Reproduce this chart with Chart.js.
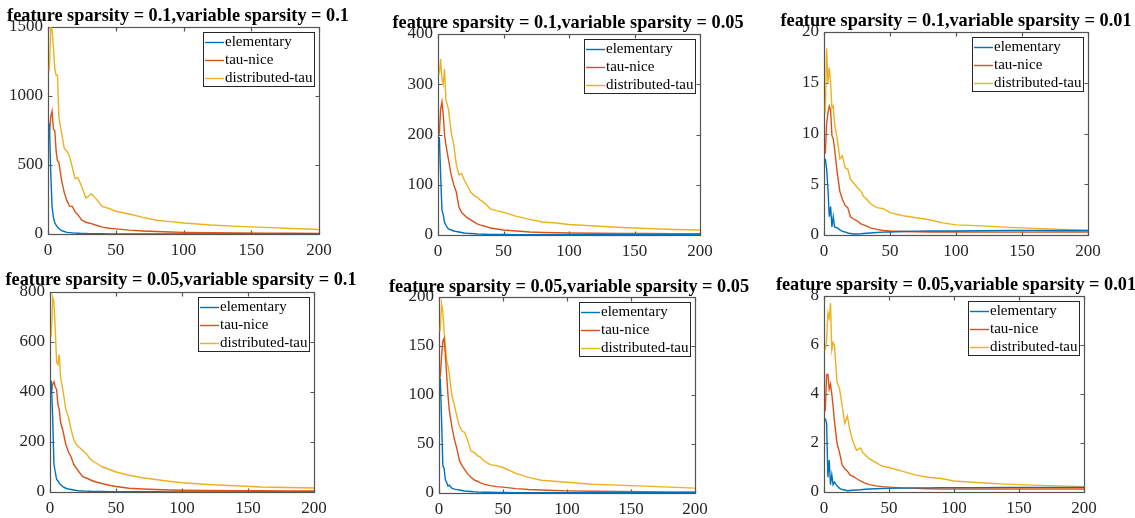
<!DOCTYPE html>
<html>
<head>
<meta charset="utf-8">
<script src="https://cdn.jsdelivr.net/npm/chart.js@4.4.1/dist/chart.umd.min.js"></script>
<style>
  html, body { margin: 0; padding: 0; background: #fff; }
  body { position: relative; width: 1135px; height: 518px; overflow: hidden; }
  .panel { position: absolute; }
  .title {
    position: absolute; white-space: nowrap; line-height: 1;
    font: bold 18.3px "Liberation Serif", serif; color: #000;
    transform: translateX(-50%);
  }
</style>
</head>
<body>
<script>
const iters = [1, 2, 3, 4, 5, 6, 7, 8, 10, 12, 14, 16, 18, 20, 22, 25, 28, 30, 32, 35, 40, 45, 50, 60, 70, 80, 90, 100, 120, 140, 160, 180, 200];

const seriesNames = ['elementary', 'tau-nice', 'distributed-tau'];
const seriesColors = ['#0072BD', '#D95319', '#EDB120'];

const titles = [
  'feature sparsity = 0.1,variable sparsity = 0.1',
  'feature sparsity = 0.1,variable sparsity = 0.05',
  'feature sparsity = 0.1,variable sparsity = 0.01',
  'feature sparsity = 0.05,variable sparsity = 0.1',
  'feature sparsity = 0.05,variable sparsity = 0.05',
  'feature sparsity = 0.05,variable sparsity = 0.01'
];
const yMax = [1500, 400, 20, 800, 200, 8];
const yStep = [500, 100, 5, 200, 50, 2];
const xTickStep = 50;

// feature 0.1, variable 0.1
const elem_f10_v10 = [800, 450, 200, 120, 80, 65, 50, 40, 25, 18, 12, 10, 8, 6, 5, 4, 3.5, 3, 2.5, 2, 1.5, 1.2, 1, 0.8, 0.7, 0.6, 0.5, 0.5, 0.5, 0.5, 0.5, 0.5, 0.5];
const tau_f10_v10 = [720, 850, 890, 760, 750, 600, 530, 520, 390, 300, 240, 200, 200, 160, 140, 100, 85, 80, 75, 65, 50, 42, 37, 28, 22, 18, 14, 12, 9, 7, 6, 5, 4];
const dist_f10_v10 = [1180, 1500, 1480, 1350, 1200, 1150, 1150, 850, 730, 620, 600, 560, 480, 400, 410, 340, 260, 275, 290, 260, 200, 185, 165, 145, 120, 100, 90, 80, 65, 55, 48, 40, 33];

// feature 0.1, variable 0.05
const elem_f10_v05 = [195, 120, 50, 40, 25, 20, 15, 12, 10, 8, 7, 6, 5, 4, 3.5, 3, 2.5, 2, 1.8, 1.5, 1.2, 1, 1, 0.8, 0.7, 0.6, 0.5, 0.5, 0.5, 0.5, 0.5, 0.5, 0.5];
const tau_f10_v05 = [200, 250, 265, 240, 200, 180, 165, 150, 120, 100, 85, 55, 45, 40, 35, 30, 25, 22, 20, 18, 14, 12, 10, 8, 6, 5, 4.5, 4, 3.5, 3.2, 3, 2.8, 2.5];
const dist_f10_v05 = [320, 350, 310, 300, 330, 270, 260, 250, 205, 180, 140, 120, 122, 110, 100, 85, 78, 75, 70, 65, 52, 48, 45, 37, 31, 26, 24, 21, 18, 15, 13, 11, 10];

// feature 0.1, variable 0.01
const elem_f10_v01 = [7.5, 6.5, 4.5, 1.8, 2.8, 0.8, 1.8, 0.8, 0.7, 0.5, 0.35, 0.3, 0.2, 0.15, 0.1, 0.1, 0.12, 0.15, 0.17, 0.2, 0.25, 0.28, 0.3, 0.35, 0.38, 0.4, 0.4, 0.4, 0.42, 0.44, 0.45, 0.45, 0.45];
const tau_f10_v01 = [8, 11, 12, 12.7, 12.3, 9.8, 9.5, 8.5, 6.2, 4.3, 3.5, 2.9, 2.7, 1.8, 1.6, 1.4, 1.1, 1.0, 0.9, 0.7, 0.55, 0.45, 0.4, 0.35, 0.32, 0.3, 0.3, 0.3, 0.28, 0.28, 0.28, 0.3, 0.3];
const dist_f10_v01 = [12, 18.4, 15, 16.5, 15, 12.5, 12.7, 11, 9.5, 7.5, 7.8, 6.6, 6.5, 5.5, 5.2, 4.7, 4.3, 3.8, 3.6, 3.1, 2.7, 2.6, 2.2, 1.9, 1.7, 1.5, 1.2, 1.0, 0.9, 0.75, 0.65, 0.55, 0.45];

// feature 0.05, variable 0.1
const elem_f05_v10 = [445, 300, 110, 80, 50, 45, 35, 30, 20, 15, 12, 10, 8, 6, 5, 4, 3.5, 3, 2.5, 2, 1.8, 1.6, 1.5, 1.2, 1, 0.8, 0.7, 0.6, 0.5, 0.5, 0.5, 0.5, 0.5];
const tau_f05_v10 = [400, 430, 440, 420, 410, 350, 330, 280, 240, 190, 160, 140, 110, 95, 80, 60, 55, 50, 45, 40, 33, 27, 22, 15, 12, 10, 8, 7, 6, 5.5, 5, 4.5, 4];
const dist_f05_v10 = [620, 780, 760, 650, 520, 510, 550, 460, 400, 330, 300, 250, 210, 190, 180, 165, 150, 135, 125, 115, 100, 90, 80, 67, 57, 50, 43, 37, 30, 25, 20, 18, 16];

// feature 0.05, variable 0.05
const elem_f05_v05 = [117, 75, 28, 25, 13, 11, 7, 8, 5, 4, 3.5, 3, 2.5, 2, 1.8, 1.5, 1.2, 1, 0.9, 0.8, 0.7, 0.6, 0.5, 0.4, 0.35, 0.3, 0.3, 0.25, 0.2, 0.2, 0.2, 0.2, 0.2];
const tau_f05_v05 = [118, 140, 155, 158, 140, 120, 100, 85, 68, 55, 45, 33, 28, 24, 20, 16, 13, 12, 10.5, 9, 7.5, 6.5, 6, 4.5, 3.5, 3, 2.5, 2.2, 1.8, 1.5, 1.3, 1.1, 1];
const dist_f05_v05 = [165, 193, 185, 165, 150, 135, 130, 122, 100, 90, 78, 68, 63, 62, 55, 43, 41, 38, 37, 33, 29, 28, 26, 20, 16, 13, 12, 11, 9, 8, 7, 6, 5];

// feature 0.05, variable 0.01
const elem_f05_v01 = [3.0, 2.8, 0.6, 1.3, 0.3, 0.7, 0.3, 0.4, 0.25, 0.15, 0.1, 0.08, 0.05, 0.06, 0.07, 0.08, 0.09, 0.1, 0.11, 0.12, 0.13, 0.14, 0.15, 0.16, 0.17, 0.17, 0.18, 0.18, 0.18, 0.19, 0.19, 0.19, 0.19];
const tau_f05_v01 = [3.3, 4.8, 4.8, 4.2, 4.4, 4.0, 3.5, 2.9, 2.0, 1.6, 1.1, 0.95, 0.85, 0.7, 0.65, 0.55, 0.45, 0.4, 0.35, 0.3, 0.25, 0.22, 0.2, 0.17, 0.15, 0.13, 0.12, 0.12, 0.12, 0.12, 0.12, 0.12, 0.12];
const dist_f05_v01 = [5.8, 6.2, 7.3, 7.1, 7.7, 5.8, 6.1, 6.0, 4.5, 4.2, 3.5, 2.8, 3.1, 2.5, 2.1, 1.7, 1.8, 1.6, 1.5, 1.35, 1.2, 1.05, 1.0, 0.85, 0.7, 0.6, 0.55, 0.45, 0.38, 0.32, 0.28, 0.25, 0.22];

const panelSeries = [
  [elem_f10_v10, tau_f10_v10, dist_f10_v10],
  [elem_f10_v05, tau_f10_v05, dist_f10_v05],
  [elem_f10_v01, tau_f10_v01, dist_f10_v01],
  [elem_f05_v10, tau_f05_v10, dist_f05_v10],
  [elem_f05_v05, tau_f05_v05, dist_f05_v05],
  [elem_f05_v01, tau_f05_v01, dist_f05_v01]
];

// layout: plot box [left, top, right, bottom], title [centerX, top]
const plotBoxes = [
  [48, 27, 319, 234], [438, 34, 700, 235], [824, 32, 1088, 235],
  [50, 292, 314, 492], [439, 297, 695, 493], [824, 296, 1084, 492]
];
const titlePos = [[178, 5], [568, 12], [956, 10], [181, 269], [569, 276], [956, 274]];

const AXIS_W = 50, PAD_T = 12, PAD_R = 16, AXIS_H = 30;
const axisColor = '#262626';
const serif = '"Liberation Serif", "Times New Roman", serif';

// box round the axes with inward ticks on all four sides
const framePlugin = {
  id: 'frame',
  beforeDatasetsDraw(chart) {
    const { ctx, chartArea: a, scales: { x, y } } = chart;
    const L = Math.round(a.left) + 0.5, R = Math.round(a.right) + 0.5;
    const T = Math.round(a.top) + 0.5, B = Math.round(a.bottom) + 0.5;
    ctx.save();
    ctx.strokeStyle = '#555';
    ctx.lineWidth = 1.2;
    ctx.strokeRect(L, T, R - L, B - T);
    ctx.beginPath();
    x.ticks.forEach(t => {
      const px = Math.round(x.getPixelForValue(t.value)) + 0.5;
      ctx.moveTo(px, B); ctx.lineTo(px, B - 4);
      ctx.moveTo(px, T); ctx.lineTo(px, T + 4);
    });
    y.ticks.forEach(t => {
      const py = Math.round(y.getPixelForValue(t.value)) + 0.5;
      ctx.moveTo(L, py); ctx.lineTo(L + 4, py);
      ctx.moveTo(R, py); ctx.lineTo(R - 4, py);
    });
    ctx.stroke();
    ctx.restore();
  }
};

// MATLAB-like legend box in the top right corner of the axes
const boxLegendPlugin = {
  id: 'boxLegend',
  afterDatasetsDraw(chart) {
    const { ctx, chartArea: a } = chart;
    const sets = chart.data.datasets;
    ctx.save();
    ctx.font = '15px ' + serif;
    const textW = Math.max(...sets.map(d => ctx.measureText(d.label).width));
    const lineLen = 19, rowH = 18;
    const w = Math.round(2 + lineLen + 1 + textW + 2);
    const h = 10 + rowH * (sets.length - 1) + 8;
    const right = Math.round(a.right) - 5, top = Math.round(a.top) + 5;
    const left = right - w;
    ctx.fillStyle = '#fff';
    ctx.fillRect(left, top, w, h);
    ctx.strokeStyle = axisColor;
    ctx.lineWidth = 1;
    ctx.strokeRect(left + 0.5, top + 0.5, w, h);
    ctx.textBaseline = 'middle';
    sets.forEach((d, i) => {
      const cy = top + 10 + i * rowH + 0.5;
      ctx.strokeStyle = d.borderColor;
      ctx.lineWidth = 1.4;
      ctx.beginPath();
      ctx.moveTo(left + 2, cy);
      ctx.lineTo(left + 2 + lineLen, cy);
      ctx.stroke();
      ctx.fillStyle = '#000';
      ctx.fillText(d.label, left + 3 + lineLen, cy);
    });
    ctx.restore();
  }
};

function makePanel(i) {
  const [L, T, R, B] = plotBoxes[i];
  const w = (R - L) + AXIS_W + PAD_R;
  const h = (B - T) + PAD_T + AXIS_H;

  const box = document.createElement('div');
  box.className = 'panel';
  box.style.left = (L - AXIS_W) + 'px';
  box.style.top = (T - PAD_T) + 'px';
  const canvas = document.createElement('canvas');
  canvas.width = w;
  canvas.height = h;
  box.appendChild(canvas);
  document.body.appendChild(box);

  const title = document.createElement('div');
  title.className = 'title';
  title.textContent = titles[i];
  title.style.left = titlePos[i][0] + 'px';
  title.style.top = titlePos[i][1] + 'px';
  document.body.appendChild(title);

  new Chart(canvas.getContext('2d'), {
    type: 'line',
    data: {
      datasets: panelSeries[i].map((vals, k) => ({
        label: seriesNames[k],
        data: iters.map((it, j) => ({ x: it, y: vals[j] })),
        borderColor: seriesColors[k],
        borderWidth: 1.4,
        pointRadius: 0,
        tension: 0,
        fill: false
      }))
    },
    options: {
      responsive: false,
      animation: false,
      events: [],
      layout: { padding: { top: PAD_T, right: PAD_R, left: 0, bottom: 0 } },
      plugins: { legend: { display: false }, tooltip: { enabled: false } },
      scales: {
        x: {
          type: 'linear', min: 0, max: 200,
          grid: { display: false, drawTicks: false }, border: { display: false },
          ticks: {
            stepSize: xTickStep, padding: 6, maxRotation: 0,
            color: axisColor, font: { family: serif, size: 17 },
            callback: v => String(v)
          },
          afterFit: s => { s.height = AXIS_H; s.paddingLeft = 0; s.paddingRight = 0; }
        },
        y: {
          min: 0, max: yMax[i],
          grid: { display: false, drawTicks: false }, border: { display: false },
          ticks: {
            stepSize: yStep[i], padding: 5,
            color: axisColor, font: { family: serif, size: 17 },
            callback: v => String(v)
          },
          afterFit: s => { s.width = AXIS_W; s.paddingTop = 0; s.paddingBottom = 0; }
        }
      }
    },
    plugins: [framePlugin, boxLegendPlugin]
  });
}

for (let i = 0; i < 6; i++) makePanel(i);
</script>
</body>
</html>
